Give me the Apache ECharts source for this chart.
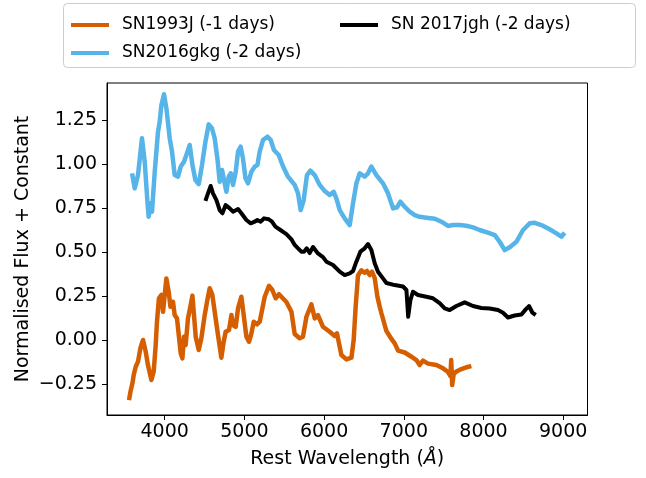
<!DOCTYPE html>
<html>
<head>
<meta charset="utf-8">
<script src="https://cdn.jsdelivr.net/npm/echarts@6/dist/echarts.min.js"></script>
<style>
  html, body {margin: 0; padding: 0; background: #fff}
  #chart {width: 646px; height: 478px}
</style>
</head>
<body>
<div id="chart"></div>
<script>
const xTicks = [4000, 5000, 6000, 7000, 8000, 9000]
const yTicks = [-0.25, 0, 0.25, 0.5, 0.75, 1, 1.25]
const seriesNames = ['SN1993J (-1 days)', 'SN2016gkg (-2 days)', 'SN 2017jgh (-2 days)']
const seriesColors = ['#D55E00', '#56B4E9', '#000000']

// SN1993J
const sn1993jWave = [3552, 3570, 3595, 3611, 3636, 3665, 3695, 3728, 3762, 3790, 3833, 3862, 3887, 3903, 3928, 3959,
  3979, 4000, 4021, 4050, 4072, 4104, 4125, 4154, 4179, 4201, 4222, 4242, 4263, 4292, 4322, 4348, 4364, 4389, 4427,
  4460, 4502, 4531, 4565, 4598, 4627, 4669, 4711, 4740, 4765, 4807, 4837, 4857, 4891, 4920, 4962, 4991, 5025, 5058,
  5088, 5117, 5142, 5158, 5192, 5226, 5255, 5309, 5351, 5393, 5434, 5443, 5527, 5590, 5631, 5694, 5735, 5778, 5841,
  5882, 5923, 5986, 6070, 6133, 6162, 6187, 6217, 6280, 6343, 6371, 6396, 6425, 6468, 6509, 6538, 6572, 6601, 6635,
  6669, 6698, 6719, 6782, 6845, 6886, 6928, 7011, 7095, 7158, 7199, 7241, 7304, 7409, 7492, 7555, 7585, 7595, 7607,
  7626, 7660, 7723, 7785, 7848]
const sn1993jFlux = [-0.338, -0.291, -0.243, -0.196, -0.149, -0.120, -0.044, 0.003, -0.064, -0.139, -0.224, -0.177,
  -0.026, 0.107, 0.240, 0.259, 0.164, 0.259, 0.353, 0.277, 0.192, 0.220, 0.145, 0.126, 0.022, -0.073, -0.101, 0.022,
  -0.026, 0.126, 0.192, 0.255, 0.164, 0.022, -0.054, 0.013, 0.145, 0.220, 0.297, 0.259, 0.164, 0.031, -0.098, -0.007,
  0.050, 0.060, 0.145, 0.088, 0.078, 0.183, 0.249, 0.145, 0.022, -0.007, 0.041, 0.107, 0.116, 0.092, 0.107, 0.183,
  0.249, 0.311, 0.287, 0.240, 0.263, 0.268, 0.219, 0.164, 0.037, 0.013, 0.022, 0.135, 0.205, 0.126, 0.145, 0.078,
  0.050, 0.026, 0.041, -0.016, -0.082, -0.107, -0.097, 0.003, 0.192, 0.369, 0.399, 0.385, 0.395, 0.372, 0.391, 0.355,
  0.249, 0.192, 0.155, 0.054, 0.009, -0.016, -0.057, -0.068, -0.092, -0.111, -0.139, -0.114, -0.131, -0.139, -0.158,
  -0.179, -0.202, -0.111, -0.253, -0.190, -0.176, -0.162, -0.152, -0.145]

// SN2016gkg
const sn2016gkgWave = [3590, 3624, 3665, 3715, 3749, 3783, 3799, 3824, 3841, 3875, 3916, 3937, 3959, 3991, 4021, 4063,
  4092, 4125, 4167, 4201, 4242, 4272, 4314, 4348, 4385, 4427, 4468, 4511, 4552, 4593, 4627, 4661, 4690, 4719, 4744,
  4774, 4803, 4828, 4857, 4891, 4920, 4953, 4982, 5013, 5045, 5088, 5129, 5163, 5192, 5233, 5289, 5330, 5371, 5430,
  5484, 5547, 5631, 5673, 5706, 5744, 5785, 5828, 5882, 5945, 6008, 6070, 6120, 6154, 6196, 6258, 6321, 6363, 6405,
  6447, 6509, 6551, 6593, 6656, 6739, 6802, 6865, 6915, 6957, 7011, 7074, 7137, 7199, 7284, 7388, 7472, 7555, 7617,
  7701, 7785, 7868, 7952, 8056, 8141, 8203, 8266, 8329, 8413, 8496, 8580, 8642, 8726, 8830, 8915, 8977, 9019]
const sn2016gkgFlux = [0.950, 0.865, 0.940, 1.149, 1.016, 0.789, 0.703, 0.780, 0.732, 0.959, 1.186, 1.243, 1.338,
  1.399, 1.319, 1.149, 1.073, 0.940, 0.931, 0.988, 1.016, 1.054, 1.111, 0.997, 0.912, 0.889, 0.997, 1.130, 1.228,
  1.206, 1.149, 1.035, 0.902, 0.969, 0.912, 0.845, 0.931, 0.950, 0.884, 0.959, 1.073, 1.101, 1.035, 0.922, 0.893,
  0.959, 0.988, 0.997, 1.073, 1.139, 1.158, 1.139, 1.082, 1.054, 0.990, 0.931, 0.884, 0.836, 0.741, 0.798, 0.940,
  0.965, 0.940, 0.884, 0.849, 0.827, 0.845, 0.808, 0.741, 0.694, 0.656, 0.780, 0.893, 0.950, 0.931, 0.950, 0.988,
  0.940, 0.893, 0.836, 0.751, 0.757, 0.789, 0.760, 0.732, 0.713, 0.703, 0.698, 0.692, 0.675, 0.651, 0.656, 0.656,
  0.652, 0.643, 0.628, 0.613, 0.599, 0.561, 0.514, 0.530, 0.561, 0.628, 0.666, 0.669, 0.656, 0.632, 0.609, 0.590,
  0.612]

// SN 2017jgh
const sn2017jghWave = [4511, 4543, 4577, 4606, 4649, 4690, 4724, 4765, 4816, 4857, 4920, 4962, 5025, 5079, 5129, 5163,
  5205, 5246, 5305, 5346, 5389, 5443, 5527, 5590, 5631, 5673, 5715, 5748, 5782, 5819, 5861, 5923, 5986, 6029, 6112,
  6196, 6258, 6321, 6363, 6405, 6455, 6509, 6551, 6593, 6635, 6676, 6739, 6782, 6886, 6990, 7033, 7055, 7083, 7115,
  7178, 7283, 7366, 7450, 7513, 7576, 7660, 7764, 7868, 7974, 8078, 8182, 8245, 8307, 8391, 8476, 8530, 8571, 8614,
  8655]
const sn2017jghFlux = [0.793, 0.836, 0.878, 0.836, 0.798, 0.741, 0.723, 0.770, 0.751, 0.732, 0.747, 0.723, 0.685,
  0.666, 0.675, 0.685, 0.675, 0.694, 0.689, 0.675, 0.647, 0.631, 0.605, 0.575, 0.543, 0.524, 0.505, 0.505, 0.524,
  0.497, 0.531, 0.495, 0.474, 0.448, 0.429, 0.391, 0.372, 0.382, 0.395, 0.448, 0.505, 0.524, 0.548, 0.514, 0.439,
  0.391, 0.353, 0.327, 0.315, 0.307, 0.287, 0.135, 0.230, 0.277, 0.259, 0.249, 0.240, 0.213, 0.183, 0.173, 0.196,
  0.217, 0.196, 0.185, 0.182, 0.173, 0.158, 0.131, 0.142, 0.148, 0.177, 0.196, 0.158, 0.145]

const waves = [sn1993jWave, sn2016gkgWave, sn2017jghWave]
const fluxes = [sn1993jFlux, sn2016gkgFlux, sn2017jghFlux]
const lineWidths = [4.5, 4.5, 4]

const font = 'DejaVu Sans'
const fmtY = v => (v < 0 ? '\u2212' : '') + Math.abs(v).toFixed(2)

const chart = echarts.init(document.getElementById('chart'), null, {renderer: 'canvas'})

const legendBase = {
  orient: 'vertical',
  top: 10,
  icon: 'rect',
  itemWidth: 38,
  itemHeight: 4,
  itemGap: 8,
  textStyle: {fontFamily: font, fontSize: 17, color: '#000', lineHeight: 20, padding: [0, 0, 0, 8]}
}

chart.setOption({
  animation: false,
  textStyle: {fontFamily: font},
  graphic: [{
    type: 'rect',
    z: 1,
    shape: {x: 63.5, y: 3.5, width: 572, height: 64, r: 4},
    style: {fill: 'rgba(255,255,255,0.8)', stroke: '#cccccc', lineWidth: 1}
  }],
  legend: [
    {...legendBase, left: 66, data: seriesNames.slice(0, 2)},
    {...legendBase, left: 335, data: seriesNames.slice(2)}
  ],
  grid: {
    left: 107, right: 58.5, top: 83, bottom: 63,
    show: true, borderColor: '#000', borderWidth: 1, backgroundColor: 'transparent'
  },
  xAxis: {
    type: 'value',
    min: 3276,
    max: 9305,
    name: 'Rest Wavelength ({i|Å})',
    nameLocation: 'middle',
    nameGap: 35,
    nameTextStyle: {fontFamily: font, fontSize: 19, color: '#000', rich: {i: {fontFamily: font, fontSize: 19, fontStyle: 'italic'}}},
    axisLine: {onZero: false, lineStyle: {color: '#000', width: 1}},
    axisTick: {show: true, length: 5, customValues: xTicks, lineStyle: {color: '#000'}},
    axisLabel: {customValues: xTicks, margin: 8, fontFamily: font, fontSize: 19, color: '#000', formatter: v => String(v)},
    splitLine: {show: false}
  },
  yAxis: {
    type: 'value',
    min: -0.423,
    max: 1.463,
    name: 'Normalised Flux + Constant',
    nameLocation: 'middle',
    nameGap: 74,
    nameMoveOverlap: false,
    nameTextStyle: {fontFamily: font, fontSize: 19, color: '#000'},
    axisLine: {show: true, onZero: false, lineStyle: {color: '#000', width: 1}},
    axisTick: {show: true, length: 5, customValues: yTicks, lineStyle: {color: '#000'}},
    axisLabel: {customValues: yTicks, margin: 10, fontFamily: font, fontSize: 19, color: '#000', formatter: fmtY},
    splitLine: {show: false}
  },
  series: seriesNames.map((name, i) => ({
    name,
    type: 'line',
    data: waves[i].map((w, j) => [w, fluxes[i][j]]),
    showSymbol: false,
    symbol: 'none',
    color: seriesColors[i],
    lineStyle: {color: seriesColors[i], width: lineWidths[i], join: 'round'},
    z: 2 + i
  }))
})
</script>
</body>
</html>
